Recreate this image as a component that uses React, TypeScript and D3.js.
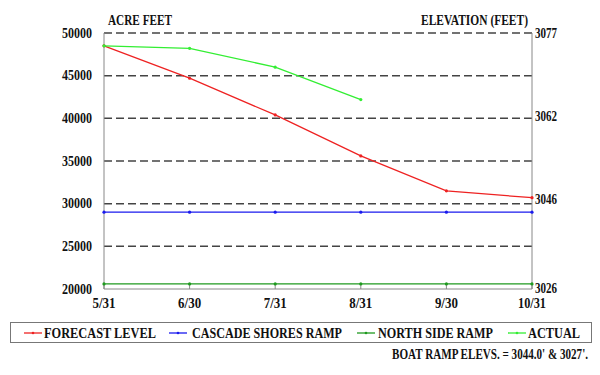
import React from "react";
import * as d3 from "d3";

const months = ["5/31", "6/30", "7/31", "8/31", "9/30", "10/31"];
const forecast = [48500, 44700, 40400, 35600, 31500, 30700];
const cascade = [29000, 29000, 29000, 29000, 29000, 29000];
const northSide = [20600, 20600, 20600, 20600, 20600, 20600];
const actual = [48500, 48200, 46000, 42200];
const leftTicks = [20000, 25000, 30000, 35000, 40000, 45000, 50000];
const rightLabels = ["3077", "3062", "3046", "3026"];
const rightLabelPos = [50000, 40250, 30450, 20100];

const seriesNames = ["FORECAST LEVEL", "CASCADE SHORES RAMP", "NORTH SIDE RAMP", "ACTUAL"];
const seriesColors = ["#ee2222", "#1a1aee", "#1f9a1f", "#33ee33"];
const seriesData = [forecast, cascade, northSide, actual];

const F = "Liberation Serif";

function T({ x, y, len, anchor, children }: any) {
  return (
    <text
      x={x}
      y={y}
      fontFamily={F}
      fontWeight="bold"
      fontSize={14}
      fill="#111"
      textAnchor={anchor || "start"}
      textLength={len}
      lengthAdjust="spacingAndGlyphs"
    >
      {children}
    </text>
  );
}

export default function App() {
  const W = 600, H = 375;
  const left = 104, right = 532, top = 33, bottom = 289;
  const x = d3.scalePoint<string>().domain(months).range([left, right]);
  const y = d3.scaleLinear().domain([20000, 50000]).range([bottom, top]);
  const line = d3.line<number>().x((_, i) => x(months[i]) as number).y((d) => y(d));
  const legendLineX = [24, 169, 357, 508];
  const legendTextX = [44, 192, 378, 528];
  const legendLen = [112, 150, 115, 52];

  return (
    <svg width={W} height={H} style={{ position: "absolute", left: 0, top: 0, background: "#fff" }}>
      <rect x={0} y={0} width={W} height={H} fill="#fff" />
      {leftTicks.filter((t) => t !== 20000).map((t) => (
        <line key={t} x1={left} x2={right} y1={y(t)} y2={y(t)} stroke="#444" strokeWidth={1.5} strokeDasharray="8,4" />
      ))}
      <line x1={left} x2={left} y1={top} y2={bottom} stroke="#888" strokeWidth={1} />
      <line x1={right} x2={right} y1={top} y2={bottom} stroke="#888" strokeWidth={1} />
      <line x1={left} x2={right} y1={bottom} y2={bottom} stroke="#888" strokeWidth={1} />
      {months.map((m) => (
        <line key={m} x1={x(m)} x2={x(m)} y1={bottom} y2={bottom - 5} stroke="#888" strokeWidth={1} />
      ))}
      {leftTicks.map((t) => (
        <T key={t} x={92} y={y(t) + 4.5} anchor="end" len={30}>{t}</T>
      ))}
      {rightLabels.map((l, i) => (
        <T key={l} x={535} y={y(rightLabelPos[i]) + 4.5} len={22}>{l}</T>
      ))}
      {months.map((m) => (
        <T key={m} x={x(m)} y={308} anchor="middle" len={m.length > 4 ? 28 : 23}>{m}</T>
      ))}
      <T x={108} y={25} len={64}>ACRE FEET</T>
      <T x={528} y={25} anchor="end" len={107}>ELEVATION (FEET)</T>
      {seriesData.map((s, i) => (
        <g key={i}>
          <path d={line(s) || ""} fill="none" stroke={seriesColors[i]} strokeWidth={1.3} />
          {s.map((v, j) => (
            <circle key={j} cx={x(months[j])} cy={y(v)} r={1.6} fill={seriesColors[i]} />
          ))}
        </g>
      ))}
      <rect x={10.5} y={322.5} width={581} height={20} fill="#fff" stroke="#777" strokeWidth={1} />
      {seriesNames.map((n, i) => (
        <g key={n}>
          <line x1={legendLineX[i]} x2={legendLineX[i] + 18} y1={333} y2={333} stroke={seriesColors[i]} strokeWidth={1.3} />
          <circle cx={legendLineX[i] + 9} cy={333} r={1.3} fill={seriesColors[i]} />
          <T x={legendTextX[i]} y={338} len={legendLen[i]}>{n}</T>
        </g>
      ))}
      <T x={588} y={359} anchor="end" len={196}>BOAT RAMP ELEVS. = 3044.0' &amp; 3027'.</T>
    </svg>
  );
}
